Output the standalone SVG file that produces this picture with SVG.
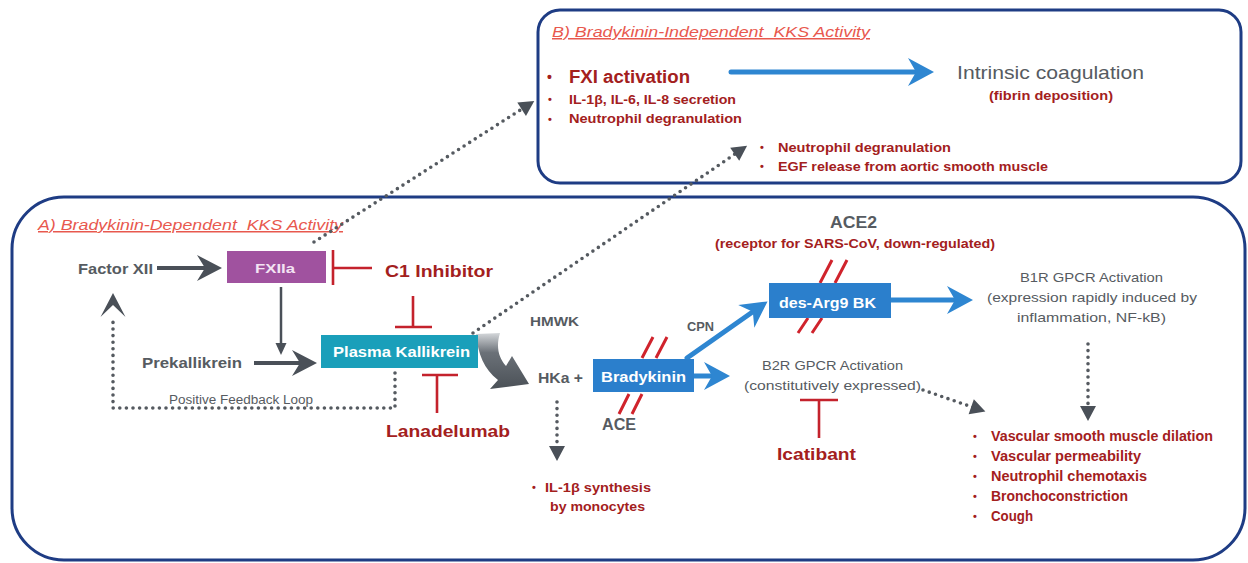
<svg xmlns="http://www.w3.org/2000/svg" width="1248" height="563" viewBox="0 0 1248 563">
<style>
text{font-family:"Liberation Sans",Arial,sans-serif}
.title{font-style:italic;font-size:15px;fill:#e8584e;text-decoration:underline;white-space:pre}
.red{fill:#a3201d;font-weight:bold}
.gray{fill:#565b61}
.b{font-weight:bold}
.white{fill:#ffffff;font-weight:bold}
.frame{fill:#ffffff;stroke:#1e3c84;stroke-width:3}
.dot{fill:none;stroke:#555a60;stroke-width:3.6;stroke-dasharray:0 6.6;stroke-linecap:round}
.garrow{fill:none;stroke:#4a5058;stroke-width:4}
.barrow{fill:none;stroke:#2e86d1;stroke-width:5;stroke-linecap:round}
.inh{fill:none;stroke:#c4222c;stroke-width:2.6}
.slash{fill:none;stroke:#d0232c;stroke-width:3}
</style>
<defs>
<marker id="stG" viewBox="-20 -15 30 30" markerWidth="30" markerHeight="30" refX="0" refY="0" orient="auto" markerUnits="userSpaceOnUse"><path d="M-17,-13 L8,0 L-17,13 L-9,0 Z" fill="#4a5058"/></marker>
<marker id="stB" viewBox="-20 -16 30 32" markerWidth="30" markerHeight="32" refX="0" refY="0" orient="auto" markerUnits="userSpaceOnUse"><path d="M-18,-14 L8,0 L-18,14 L-10,0 Z" fill="#2e86d1"/></marker>
<marker id="triS" viewBox="-10 -7 14 14" markerWidth="14" markerHeight="14" refX="0" refY="0" orient="auto" markerUnits="userSpaceOnUse"><path d="M-8,-5.5 L4,0 L-8,5.5 Z" fill="#4a5058"/></marker>
<marker id="triD" viewBox="-8 -9 20 18" markerWidth="20" markerHeight="18" refX="0" refY="0" orient="auto" markerUnits="userSpaceOnUse"><path d="M-4,-8 L11,0 L-4,8 Z" fill="#4a5058"/></marker>
<marker id="stL" viewBox="-18 -14 28 28" markerWidth="28" markerHeight="28" refX="0" refY="0" orient="auto" markerUnits="userSpaceOnUse"><path d="M-14,-12.5 L10,0 L-14,12.5 L-2,0 Z" fill="#4a5058"/></marker>
<linearGradient id="curveG" x1="0" y1="0" x2="0" y2="1">
<stop offset="0" stop-color="#d4d7da"/>
<stop offset="0.35" stop-color="#6b7178"/>
<stop offset="1" stop-color="#4b5157"/>
</linearGradient>
</defs>

<g id="frameB"><rect class="frame" x="538" y="10" width="703" height="173" rx="22"/></g>
<g id="frameA"><rect class="frame" x="12" y="197" width="1233" height="363" rx="52"/></g>

<g id="titles">
<text class="title" x="552" y="37" textLength="318" lengthAdjust="spacingAndGlyphs" xml:space="preserve">B) Bradykinin-Independent  KKS Activity</text>
<text class="title" x="38" y="230" textLength="305" lengthAdjust="spacingAndGlyphs" xml:space="preserve">A) Bradykinin-Dependent  KKS Activity</text>
</g>

<g id="connectors">
<line class="barrow" x1="731" y1="72" x2="926" y2="72" marker-end="url(#stB)"/>
<line class="garrow" x1="157" y1="268" x2="214" y2="268" marker-end="url(#stG)"/>
<line class="garrow" x1="254" y1="363" x2="309" y2="363" marker-end="url(#stG)"/>
<line x1="281" y1="287" x2="281" y2="351" stroke="#4a5058" stroke-width="2.5" marker-end="url(#triS)"/>
<path class="dot" d="M314,242 L525,107" marker-end="url(#triD)"/>
<path class="dot" d="M473,333 L738,152" marker-end="url(#triD)"/>
<path class="dot" d="M395,373 L395,408 L113,408 L113,316"/>
<path d="M113,320 L113,303" stroke="none" fill="none" marker-end="url(#stL)"/>
<path class="dot" d="M557,402 L557,450" marker-end="url(#triD)"/>
<path class="dot" d="M923,390 L975,408" marker-end="url(#triD)"/>
<path class="dot" d="M1088,344 L1088,410" marker-end="url(#triD)"/>
<path d="M476,334 C478,354 484,369 498,380 L490,389 L529,384 L512,356 L506,366 C498,357 496,346 500,333 Z" fill="url(#curveG)"/>
<line class="barrow" x1="694" y1="376" x2="722" y2="376" marker-end="url(#stB)"/>
<line class="barrow" x1="687" y1="358" x2="761" y2="306" marker-end="url(#stB)"/>
<line class="barrow" x1="891" y1="300" x2="965" y2="300" marker-end="url(#stB)"/>
<path class="inh" d="M333,250 L333,285 M333,268 L372,268"/>
<path class="inh" d="M413,296 L413,327 M395,327 L432,327"/>
<path class="inh" d="M422,375 L458,375 M437,375 L437,413"/>
<path class="inh" d="M800,400 L838,400 M819,400 L819,438"/>
<path class="slash" d="M642,358 L653,337 M656,358 L667,337 M619,414 L629,394 M632,414 L642,394"/>
<path class="slash" d="M820,283 L832,260 M835,283 L847,260 M798,333 L808,318 M812,333 L822,318"/>
</g>

<g id="nodeB-left">
<text class="red" x="547" y="82" font-size="14">•</text>
<text class="red" x="569" y="83" font-size="18" textLength="121" lengthAdjust="spacingAndGlyphs">FXI activation</text>
<text class="red" x="548" y="103" font-size="11">•</text>
<text class="red" x="569" y="104" font-size="13.5" textLength="167" lengthAdjust="spacingAndGlyphs">IL-1β, IL-6, IL-8 secretion</text>
<text class="red" x="548" y="123" font-size="11">•</text>
<text class="red" x="569" y="123" font-size="13.5" textLength="173" lengthAdjust="spacingAndGlyphs">Neutrophil degranulation</text>
</g>
<g id="nodeB-coag">
<text class="gray" x="957" y="79" font-size="19" textLength="187" lengthAdjust="spacingAndGlyphs">Intrinsic coagulation</text>
<text class="red" x="989" y="100" font-size="12.5" textLength="124" lengthAdjust="spacingAndGlyphs">(fibrin deposition)</text>
</g>
<g id="nodeB-neut">
<text class="red" x="760" y="151" font-size="11">•</text>
<text class="red" x="778" y="152" font-size="13" textLength="173" lengthAdjust="spacingAndGlyphs">Neutrophil degranulation</text>
<text class="red" x="760" y="170" font-size="11">•</text>
<text class="red" x="778" y="171" font-size="13" textLength="270" lengthAdjust="spacingAndGlyphs">EGF release from aortic smooth muscle</text>
</g>

<g id="factorXII"><text class="gray b" x="78" y="274" font-size="15" textLength="75" lengthAdjust="spacingAndGlyphs">Factor XII</text></g>
<g id="FXIIa">
<rect x="227" y="251" width="99" height="32" fill="#a0529f"/>
<text x="255" y="273" font-size="13" font-weight="bold" fill="#f3e3f3" textLength="40" lengthAdjust="spacingAndGlyphs">FXIIa</text>
</g>
<g id="C1inhibitor"><text class="red" x="385" y="277" font-size="17" textLength="108" lengthAdjust="spacingAndGlyphs">C1 Inhibitor</text></g>
<g id="prekallikrein"><text class="gray b" x="142" y="368" font-size="15" textLength="100" lengthAdjust="spacingAndGlyphs">Prekallikrein</text></g>
<g id="plasmaKallikrein">
<rect x="321" y="335" width="157" height="33" fill="#1a9fba"/>
<text class="white" x="333" y="357" font-size="14" textLength="137" lengthAdjust="spacingAndGlyphs">Plasma Kallikrein</text>
</g>
<g id="feedbackLabel"><text class="gray" x="169" y="404" font-size="12" textLength="144" lengthAdjust="spacingAndGlyphs">Positive Feedback Loop</text></g>
<g id="lanadelumab"><text class="red" x="386" y="437" font-size="17" textLength="124" lengthAdjust="spacingAndGlyphs">Lanadelumab</text></g>
<g id="HMWK"><text class="gray b" x="530" y="326" font-size="12" textLength="49" lengthAdjust="spacingAndGlyphs">HMWK</text></g>
<g id="HKa"><text class="gray b" x="538" y="383" font-size="14" textLength="45" lengthAdjust="spacingAndGlyphs">HKa +</text></g>
<g id="IL1b">
<text class="red" x="532" y="491" font-size="11">•</text>
<text class="red" x="545" y="492" font-size="13" textLength="106" lengthAdjust="spacingAndGlyphs">IL-1β synthesis</text>
<text class="red" x="550" y="511" font-size="13" textLength="95" lengthAdjust="spacingAndGlyphs">by monocytes</text>
</g>
<g id="bradykinin">
<rect x="593" y="359" width="101" height="33" fill="#2b7fcc"/>
<text class="white" x="601" y="382" font-size="14" textLength="85" lengthAdjust="spacingAndGlyphs">Bradykinin</text>
</g>
<g id="ACE"><text class="gray b" x="602" y="430" font-size="16" textLength="34" lengthAdjust="spacingAndGlyphs">ACE</text></g>
<g id="CPN"><text class="gray b" x="687" y="331" font-size="12" textLength="27" lengthAdjust="spacingAndGlyphs">CPN</text></g>
<g id="desArg9BK">
<rect x="769" y="283" width="122" height="35" fill="#2b7fcc"/>
<text class="white" x="779" y="308" font-size="15" textLength="97" lengthAdjust="spacingAndGlyphs">des-Arg9 BK</text>
</g>
<g id="ACE2">
<text class="gray b" x="830" y="228" font-size="16" textLength="47" lengthAdjust="spacingAndGlyphs">ACE2</text>
<text class="red" x="715" y="248" font-size="13.5" textLength="280" lengthAdjust="spacingAndGlyphs">(receptor for SARS-CoV, down-regulated)</text>
</g>
<g id="B1R">
<text class="gray" x="1020" y="282" font-size="13.5" textLength="143" lengthAdjust="spacingAndGlyphs">B1R GPCR Activation</text>
<text class="gray" x="987" y="302" font-size="13.5" textLength="210" lengthAdjust="spacingAndGlyphs">(expression rapidly induced by</text>
<text class="gray" x="1017" y="322" font-size="13.5" textLength="149" lengthAdjust="spacingAndGlyphs">inflammation, NF-kB)</text>
</g>
<g id="B2R">
<text class="gray" x="762" y="370" font-size="13.5" textLength="141" lengthAdjust="spacingAndGlyphs">B2R GPCR Activation</text>
<text class="gray" x="744" y="390" font-size="13.5" textLength="177" lengthAdjust="spacingAndGlyphs">(constitutively expressed)</text>
</g>
<g id="icatibant"><text class="red" x="777" y="460" font-size="17" textLength="79" lengthAdjust="spacingAndGlyphs">Icatibant</text></g>
<g id="effects">
<text class="red" x="973" y="440" font-size="11">•</text>
<text class="red" x="991" y="441" font-size="14.5" textLength="222" lengthAdjust="spacingAndGlyphs">Vascular smooth muscle dilation</text>
<text class="red" x="973" y="460" font-size="11">•</text>
<text class="red" x="991" y="461" font-size="14.5" textLength="150" lengthAdjust="spacingAndGlyphs">Vascular permeability</text>
<text class="red" x="973" y="480" font-size="11">•</text>
<text class="red" x="991" y="481" font-size="14.5" textLength="156" lengthAdjust="spacingAndGlyphs">Neutrophil chemotaxis</text>
<text class="red" x="973" y="500" font-size="11">•</text>
<text class="red" x="991" y="501" font-size="14.5" textLength="137" lengthAdjust="spacingAndGlyphs">Bronchoconstriction</text>
<text class="red" x="973" y="520" font-size="11">•</text>
<text class="red" x="991" y="521" font-size="14.5" textLength="42" lengthAdjust="spacingAndGlyphs">Cough</text>
</g>
</svg>
